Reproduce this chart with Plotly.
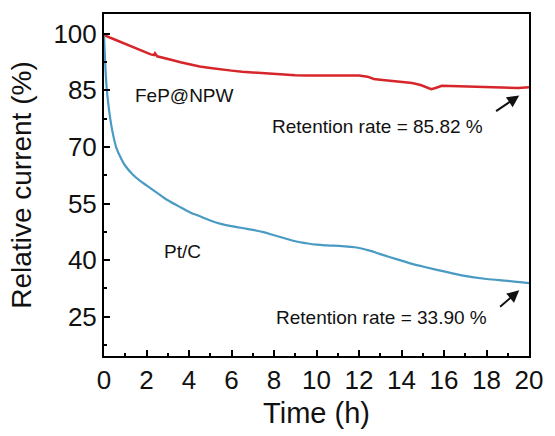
import plotly.graph_objects as go

# FeP@NPW (red) chronoamperometry
t_fep = [0, 0.1, 0.3, 0.6, 1.0, 1.4, 1.8, 2.2, 2.35, 2.4, 2.5, 2.8, 3.2, 3.6, 4.0, 4.5, 5, 5.5, 6, 6.5, 7,
         7.5, 8, 8.5, 9, 9.5, 10, 10.5, 11, 11.5, 12, 12.4, 12.7, 13, 13.5, 14, 14.5, 14.9, 15.2, 15.4,
         15.6, 15.9, 16.3, 17, 17.5, 18, 18.5, 19, 19.5, 20]
i_fep = [100, 99.4, 98.9, 98.2, 97.2, 96.4, 95.4, 94.5, 94.3, 94.8, 94.0, 93.5, 93.0, 92.4, 91.9, 91.3, 90.9,
         90.5, 90.2, 89.9, 89.7, 89.5, 89.3, 89.2, 89.0, 88.9, 88.9, 88.8, 88.8, 88.9, 88.9, 88.6, 88.0,
         87.8, 87.5, 87.2, 86.9, 86.4, 85.7, 85.3, 85.6, 86.2, 86.1, 86.0, 85.9, 85.9, 85.8, 85.7, 85.6,
         85.82]

# Pt/C (blue)
t_pt = [0, 0.05, 0.12, 0.2, 0.28, 0.4, 0.59, 0.8, 1.0, 1.35, 1.7, 2.0, 2.5, 2.9, 3.5, 4.1, 4.43, 5.0,
        5.5, 6.0, 6.5, 7.0, 7.5, 8.0, 8.5, 9.0, 9.5, 10.0, 10.5, 11.2, 11.8, 12.5, 13.0, 13.8, 14.5,
        15.0, 16.0, 16.9, 18.0, 19.0, 20.0]
i_pt = [100, 93, 86, 81.5, 78, 74, 69.6, 67, 65, 62.7, 61, 59.8, 57.8, 56.2, 54.3, 52.5, 51.8, 50.5,
        49.6, 49.0, 48.5, 48.0, 47.4, 46.6, 45.8, 45.0, 44.5, 44.1, 43.9, 43.7, 43.4, 42.5, 41.6, 40.2,
        39.0, 38.3, 37.0, 35.9, 35.0, 34.5, 33.9]

x_ticks = [0, 2, 4, 6, 8, 10, 12, 14, 16, 18, 20]
y_ticks = [25, 40, 55, 70, 85, 100]

FONT = "Arial, Liberation Sans, sans-serif"

fig = go.Figure()
fig.add_trace(go.Scatter(x=t_pt, y=i_pt, mode="lines", line=dict(color="#4a9bc4", width=2.2),
                         line_shape="spline", showlegend=False))
fig.add_trace(go.Scatter(x=t_fep, y=i_fep, mode="lines", line=dict(color="#d7262b", width=2.5),
                         showlegend=False))

labels = [
    dict(x=3.79, y=83.5, text="FeP@NPW"),
    dict(x=3.7, y=42.4, text="Pt/C"),
    dict(x=12.86, y=75.3, text="Retention rate = 85.82 %"),
    dict(x=13.05, y=24.7, text="Retention rate = 33.90 %"),
]
for a in labels:
    fig.add_annotation(x=a["x"], y=a["y"], text=a["text"], showarrow=False,
                       font=dict(family=FONT, size=19, color="#111"), xref="x", yref="y")

arrows = [((18.38, 79.2), (19.54, 83.6)), ((18.57, 27.3), (19.54, 32.0))]
for (tx, ty), (hx, hy) in arrows:
    fig.add_annotation(x=hx, y=hy, ax=tx, ay=ty, xref="x", yref="y", axref="x", ayref="y",
                       text="", showarrow=True, arrowhead=2, arrowsize=1.2, arrowwidth=2,
                       arrowcolor="#111")

axis_common = dict(showline=True, linewidth=2, linecolor="black", mirror=True, ticks="inside",
                   ticklen=6, tickwidth=2, tickcolor="black", showgrid=False, zeroline=False,
                   tickfont=dict(family=FONT, size=26, color="#111"))

fig.update_xaxes(range=[0, 20], tickvals=x_ticks, title=dict(text="Time (h)",
                 font=dict(family=FONT, size=29, color="#111"), standoff=8),
                 minor=dict(ticks="inside", dtick=1, ticklen=3, tickwidth=2, tickcolor="black"),
                 **axis_common)
fig.update_yaxes(range=[14.6, 105.2], tickvals=y_ticks, title=dict(text="Relative current (%)",
                 font=dict(family=FONT, size=28, color="#111"), standoff=14),
                 minor=dict(ticks="inside", tick0=25, dtick=7.5, ticklen=3, tickwidth=2,
                            tickcolor="black"),
                 **axis_common)

fig.update_layout(width=555, height=436, margin=dict(l=104, r=18, t=13, b=74),
                  plot_bgcolor="white", paper_bgcolor="white")
fig.write_html("out.html")
